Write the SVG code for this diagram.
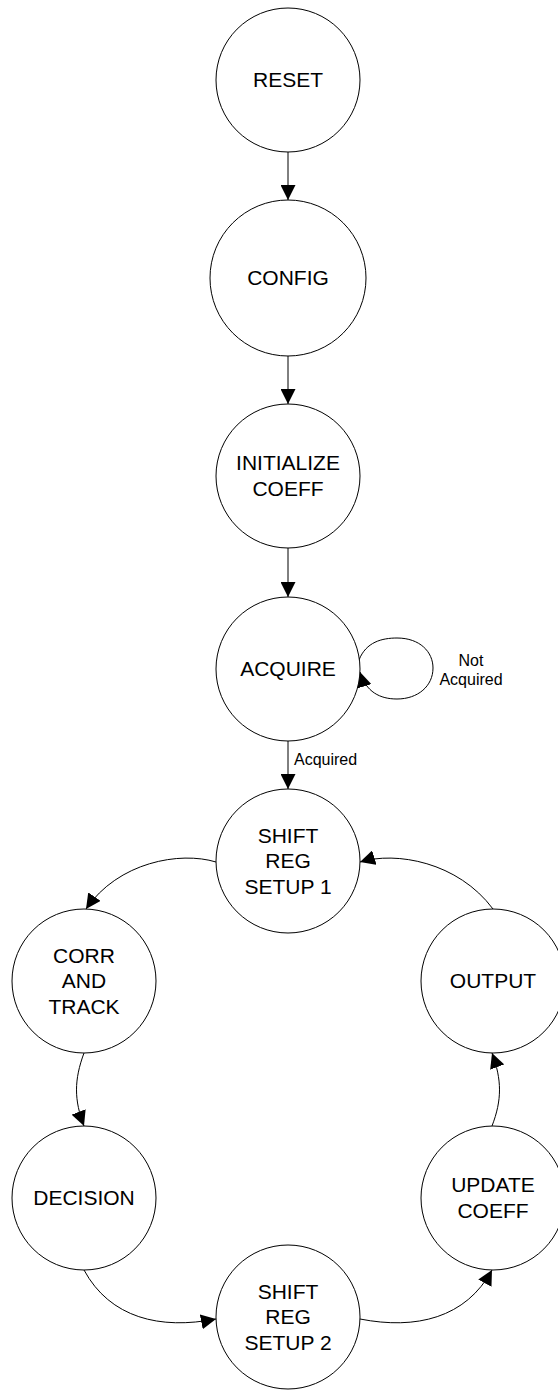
<svg xmlns="http://www.w3.org/2000/svg" width="558" height="1390" viewBox="0 0 558 1390">
  <style>
    .state { fill: #ffffff; stroke: #000000; stroke-width: 1; }
    .name { font-family: "Liberation Sans", Arial, sans-serif; font-size: 21px; fill: #000000; text-anchor: middle; }
    .cond { font-family: "Liberation Sans", Arial, sans-serif; font-size: 16px; fill: #000000; }
    .edge { fill: none; stroke: #000000; stroke-width: 1; marker-end: url(#head); }
  </style>
  <defs>
    <marker id="head" viewBox="0 0 15 15" refX="15" refY="7.5" markerWidth="15" markerHeight="15" markerUnits="userSpaceOnUse" orient="auto">
      <path d="M0,0 L15,7.5 L0,15 z" fill="#000000"/>
    </marker>
  </defs>
  <rect x="0" y="0" width="558" height="1390" fill="#ffffff"/>

  <!-- transitions -->
  <g id="connectors">
    <path class="edge" d="M288,152 L288,200"/>
    <path class="edge" d="M288,356 L288,404"/>
    <path class="edge" d="M288,548 L288,597"/>
    <path class="edge" d="M288,741 L288,789"/>
    <!-- self loop on ACQUIRE -->
    <path class="edge" d="M359,660 C366,642 382,638 397,638 C420,638 433,652 433,668 C433,686 418,699 397,699 C380,699 366,692 360,672"/>
    <!-- processing ring -->
    <path class="edge" d="M216,862 C180,851 118,862 86,909"/>
    <path class="edge" d="M84,1053 C74,1080 74,1100 84,1126"/>
    <path class="edge" d="M84,1270 C110,1318 160,1330 216,1319"/>
    <path class="edge" d="M360,1319 C416,1330 466,1318 492,1270"/>
    <path class="edge" d="M492,1126 C502,1100 502,1080 492,1053"/>
    <path class="edge" d="M493,909 C458,862 396,851 360,862"/>
    <text class="cond" x="294" y="765">Acquired</text>
    <text class="cond" x="471" y="666" text-anchor="middle">Not</text>
    <text class="cond" x="471" y="685" text-anchor="middle">Acquired</text>
  </g>

  <g id="reset">
    <circle class="state" cx="288" cy="80" r="72"/>
    <text class="name" x="288" y="87">RESET</text>
  </g>
  <g id="config">
    <circle class="state" cx="288" cy="278" r="78"/>
    <text class="name" x="288" y="285">CONFIG</text>
  </g>
  <g id="initialize-coeff">
    <circle class="state" cx="288" cy="476" r="72"/>
    <text class="name" x="288" y="470">INITIALIZE</text>
    <text class="name" x="288" y="496">COEFF</text>
  </g>
  <g id="acquire">
    <circle class="state" cx="288" cy="669" r="72"/>
    <text class="name" x="288" y="676">ACQUIRE</text>
  </g>
  <g id="shift-reg-setup-1">
    <circle class="state" cx="288" cy="861" r="72"/>
    <text class="name" x="288" y="843">SHIFT</text>
    <text class="name" x="288" y="868">REG</text>
    <text class="name" x="288" y="894">SETUP 1</text>
  </g>
  <g id="corr-and-track">
    <circle class="state" cx="84" cy="981" r="72"/>
    <text class="name" x="84" y="963">CORR</text>
    <text class="name" x="84" y="988">AND</text>
    <text class="name" x="84" y="1014">TRACK</text>
  </g>
  <g id="decision">
    <circle class="state" cx="84" cy="1198" r="72"/>
    <text class="name" x="84" y="1205">DECISION</text>
  </g>
  <g id="shift-reg-setup-2">
    <circle class="state" cx="288" cy="1317" r="72"/>
    <text class="name" x="288" y="1299">SHIFT</text>
    <text class="name" x="288" y="1324">REG</text>
    <text class="name" x="288" y="1350">SETUP 2</text>
  </g>
  <g id="update-coeff">
    <circle class="state" cx="493" cy="1198" r="72"/>
    <text class="name" x="493" y="1192">UPDATE</text>
    <text class="name" x="493" y="1218">COEFF</text>
  </g>
  <g id="output">
    <circle class="state" cx="493" cy="981" r="72"/>
    <text class="name" x="493" y="988">OUTPUT</text>
  </g>
</svg>
